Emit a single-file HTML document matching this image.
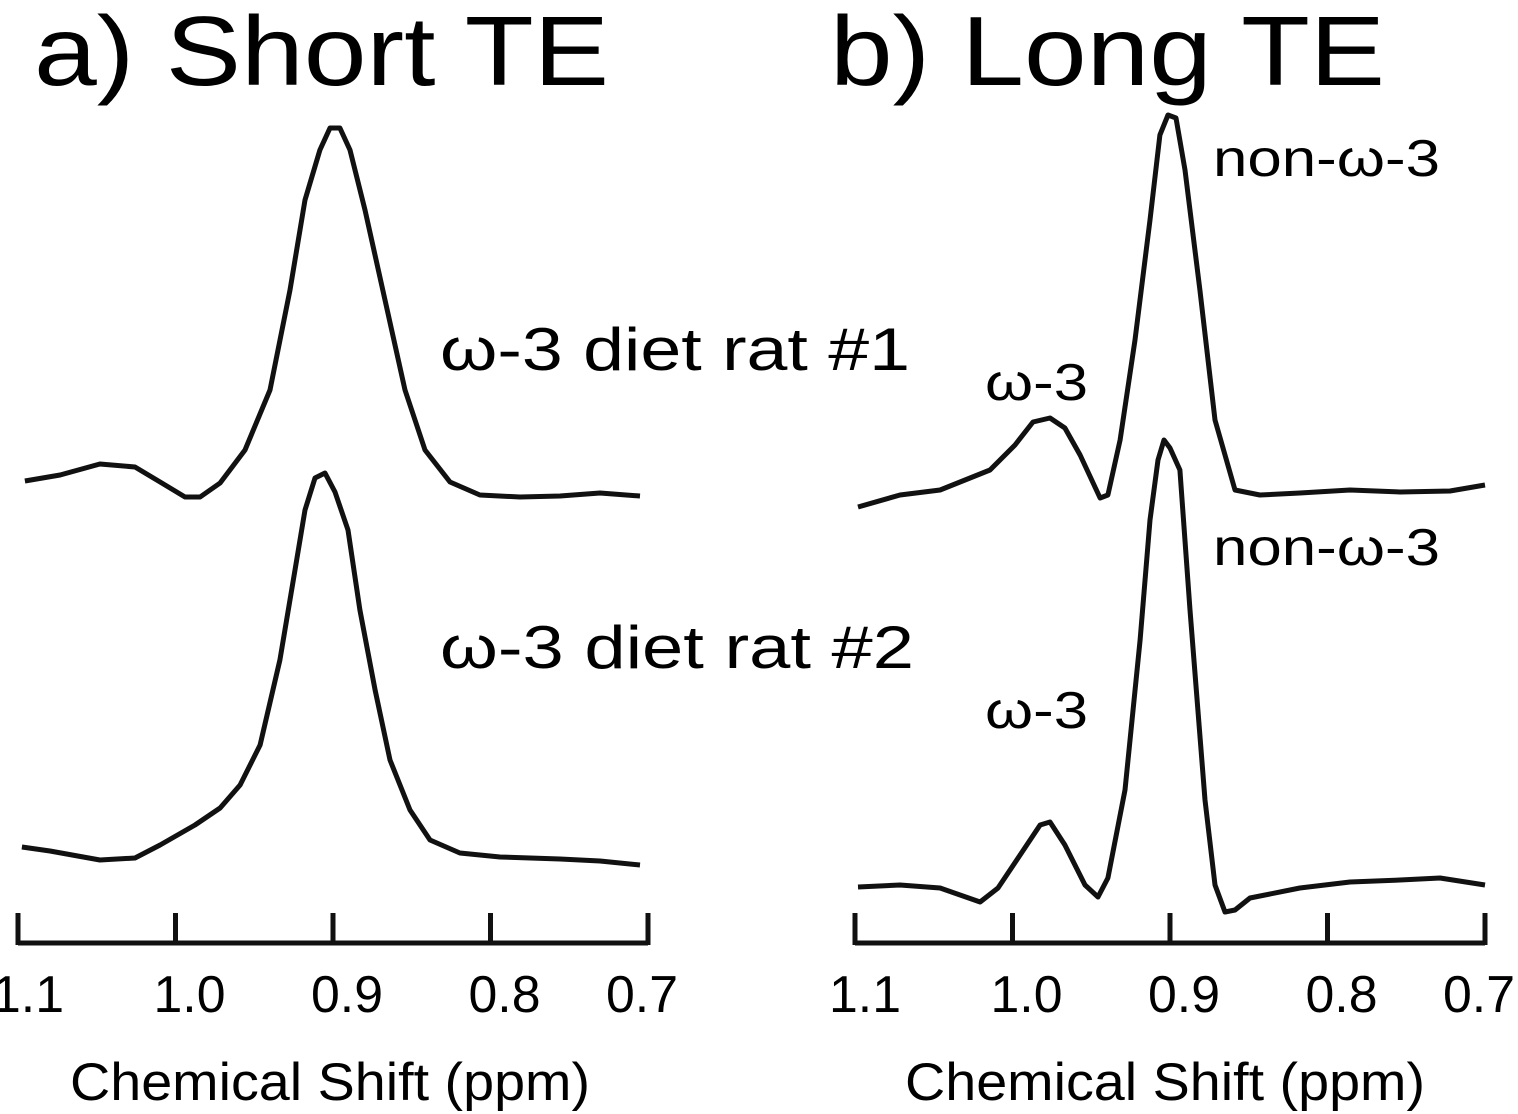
<!DOCTYPE html>
<html><head><meta charset="utf-8"><style>
html,body{margin:0;padding:0;background:#fff;}
svg{display:block;font-family:"Liberation Sans",Arial,sans-serif;}
</style></head><body>
<svg id="chart" width="1518" height="1114" viewBox="0 0 1518 1114">
<text x="34" y="85" font-size="98" textLength="575" lengthAdjust="spacingAndGlyphs">a) Short TE</text>
<text x="830" y="85" font-size="98" textLength="555" lengthAdjust="spacingAndGlyphs">b) Long TE</text>
<text x="440" y="370" font-size="60" textLength="470" lengthAdjust="spacingAndGlyphs">ω-3 diet rat #1</text>
<text x="440" y="668" font-size="60" textLength="474" lengthAdjust="spacingAndGlyphs">ω-3 diet rat #2</text>
<text x="1213" y="176" font-size="52" textLength="227" lengthAdjust="spacingAndGlyphs">non-ω-3</text>
<text x="985" y="400" font-size="52" textLength="103" lengthAdjust="spacingAndGlyphs">ω-3</text>
<text x="1213" y="565" font-size="52" textLength="227" lengthAdjust="spacingAndGlyphs">non-ω-3</text>
<text x="985" y="728" font-size="52" textLength="103" lengthAdjust="spacingAndGlyphs">ω-3</text>
<text x="70" y="1100" font-size="53" textLength="520" lengthAdjust="spacingAndGlyphs">Chemical Shift (ppm)</text>
<text x="905" y="1100" font-size="53" textLength="520" lengthAdjust="spacingAndGlyphs">Chemical Shift (ppm)</text>
<g id="marks"></g>
</svg>
<script>
const ticks=[1.1,1.0,0.9,0.8,0.7];
const tickLabels=["1.1","1.0","0.9","0.8","0.7"];
const a1ppm=[1.0956,1.0733,1.048,1.0257,1.0098,0.994,0.9844,0.9717,0.9559,0.94,0.9273,0.9178,0.9083,0.9019,0.8956,0.8892,0.8797,0.867,0.8543,0.8416,0.8257,0.8067,0.7813,0.7559,0.7305,0.7051];
const a1val=[19,25,36,33,18,3,3,17,50,110,210,300,350,372,372,350,290,200,110,50,18,5,3,4,7,4];
const a2ppm=[1.0975,1.0797,1.048,1.0257,1.0098,0.9876,0.9717,0.959,0.9463,0.9337,0.9241,0.9178,0.9114,0.9051,0.8987,0.8905,0.8829,0.8733,0.8638,0.8511,0.8384,0.8194,0.794,0.7559,0.7305,0.7051];
const a2val=[33,29,20,22,35,55,72,95,135,220,310,370,402,407,388,350,270,190,120,70,40,27,23,21,19,15];
const b1ppm=[1.0981,1.0714,1.046,1.0143,0.9984,0.987,0.9762,0.9667,0.9571,0.9444,0.9394,0.9317,0.9222,0.9127,0.9064,0.9013,0.8962,0.8905,0.881,0.8714,0.8587,0.8429,0.8175,0.7857,0.754,0.7222,0.7];
const b1val=[3,15,20,40,65,88,92,82,55,12,15,70,170,290,375,395,392,340,220,90,20,15,17,20,18,19,25];
const b2ppm=[1.0981,1.0714,1.046,1.0206,1.0092,0.9952,0.9825,0.9762,0.9667,0.954,0.9457,0.9394,0.9286,0.919,0.9127,0.9076,0.9038,0.9,0.8937,0.8873,0.8778,0.8714,0.8651,0.8587,0.8492,0.8175,0.7857,0.754,0.7286,0.7];
const b2val=[33,35,32,18,32,65,95,98,75,35,23,42,130,280,400,460,480,472,450,310,120,35,8,10,22,32,38,40,42,35];

const NS="http://www.w3.org/2000/svg";
const g=document.getElementById('marks');
function xScale(left){return p=>left+(1.1-p)/0.4*630;}
function yScale(base){return v=>base-v;}
function el(t,a){const e=document.createElementNS(NS,t);for(const k in a)e.setAttribute(k,a[k]);g.appendChild(e);return e;}
function curve(ppm,val,xs,ys,name){
  const d=ppm.map((p,i)=>(i?'L':'M')+xs(p).toFixed(1)+','+ys(val[i]).toFixed(1)).join(' ');
  const e=el('path',{d:d,fill:'none',stroke:'#111','stroke-width':5,'stroke-linejoin':'round'});
  
  
}
function axis(left,name){
  const xs=xScale(left);
  const ax=el('line',{x1:xs(1.1),x2:xs(0.7),y1:943,y2:943,stroke:'#111','stroke-width':5});
  
  
  ticks.forEach((t,i)=>{
    const tk=el('line',{x1:xs(t),x2:xs(t),y1:913,y2:945,stroke:'#111','stroke-width':5});
    
    
    const tx=el('text',{x:xs(t)-36+(i==0?10:i==4?-6:14),y:1012,'font-size':52,textLength:72,lengthAdjust:'spacingAndGlyphs'});
    tx.textContent=tickLabels[i];
    
    
  });
}
axis(18,'x-axis-a');
axis(855,'x-axis-b');
curve(a1ppm,a1val,xScale(18),yScale(500),'spectrum-short-te-rat-1');
curve(a2ppm,a2val,xScale(18),yScale(880),'spectrum-short-te-rat-2');
curve(b1ppm,b1val,xScale(855),yScale(510),'spectrum-long-te-rat-1');
curve(b2ppm,b2val,xScale(855),yScale(920),'spectrum-long-te-rat-2');
</script>
</body></html>
